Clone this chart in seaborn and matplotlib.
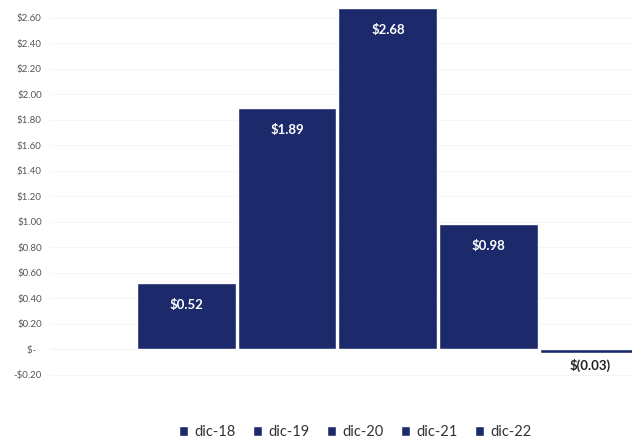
import matplotlib
matplotlib.use("Agg")
import matplotlib.pyplot as plt
import seaborn as sns
import pandas as pd
from matplotlib.ticker import FuncFormatter

categories = ["dic-18", "dic-19", "dic-20", "dic-21", "dic-22"]
values = [0.52, 1.89, 2.68, 0.98, -0.03]
yticks = [-0.20, 0.0, 0.20, 0.40, 0.60, 0.80, 1.00, 1.20, 1.40, 1.60, 1.80, 2.00, 2.20, 2.40, 2.60]

navy = "#1c2a6b"

sns.set_theme(style="white")
plt.rcParams["font.family"] = ["Lato", "DejaVu Sans"]

df = pd.DataFrame({"cat": categories, "val": values})

fig = plt.figure(figsize=(6.32, 4.38), dpi=100)
ax = fig.add_axes([50 / 632, 57 / 438, 582 / 632, 381 / 438])

sns.barplot(data=df, x="cat", y="val", hue="cat", palette=[navy] * len(categories),
            width=0.98, dodge=False, ax=ax, legend=True, saturation=1)

ax.set_xlim(-1.35, 4.42)
ax.set_ylim(-0.25, 2.74)
ax.set_yticks(yticks)


def fmt(v, pos=None):
    if abs(v) < 1e-9:
        return "$-  "
    if v < 0:
        return "-$%.2f" % abs(v)
    return "$%.2f" % v


ax.yaxis.set_major_formatter(FuncFormatter(fmt))
ax.tick_params(axis="y", labelsize=7, colors="#555555", length=0, pad=6)
ax.set_xticks([])
ax.set_xlabel("")
ax.set_ylabel("")
for s in ax.spines.values():
    s.set_visible(False)
ax.grid(axis="y", color="#f5f5f5", linewidth=0.8)
ax.set_axisbelow(True)
ax.axhline(0, color="#d9d9d9", linewidth=0.8, zorder=0.5)

for i, v in enumerate(values):
    if v >= 0:
        ax.annotate("$%.2f" % v, (i, v), xytext=(0, -22), textcoords="offset pixels",
                    ha="center", va="center", color="white", fontsize=9.5, fontweight="bold")
    else:
        ax.annotate("$(%.2f)" % abs(v), (i, v), xytext=(0, -12), textcoords="offset pixels",
                    ha="center", va="center", color="#222222", fontsize=9.5, fontweight="bold")

sns.move_legend(ax, "center", bbox_to_anchor=(0.524, -0.134), ncol=5, frameon=False,
                title=None, fontsize=10.5, handlelength=0.65, handleheight=0.65,
                columnspacing=1.2, handletextpad=0.4, labelcolor="#333333")

fig.savefig("out.png", dpi=100)
